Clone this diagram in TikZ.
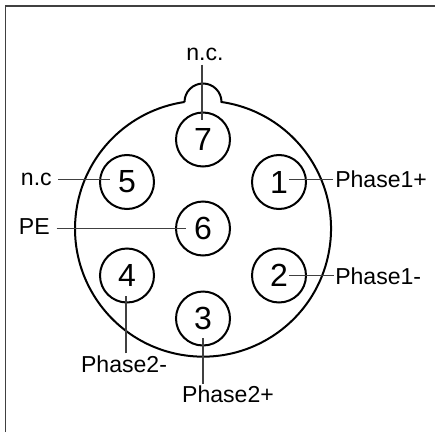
\documentclass[tikz,border=0pt]{standalone}
\usepackage{fontspec}
\setmainfont{Liberation Sans}
\tikzset{
  pin/.style={shape=circle,draw=black,line width=1.5pt,minimum size=40.5pt,inner sep=0pt,font=\fontsize{24}{24}\selectfont},
  lbl/.style={inner sep=0pt,font=\fontsize{17.3}{17.3}\selectfont},
  wire/.style={draw=black!75,line width=1pt}
}
\begin{document}
\begin{tikzpicture}[x=0.75pt,y=-0.75pt]
        \useasboundingbox (0,0) rectangle (435,432);
        % housing
        \path[draw=black!75,line width=1.1pt] (5.5,432) -- (5.5,6) -- (435,6);
        \draw[line width=1.5pt] (184.5,102) arc[start angle=180,end angle=360,radius=18.5] arc[start angle=-81.7,end angle=261.7,radius=128];
        % pins
        \node[pin] (P7) at (203,139.5) {7};
        \node[pin] (P5) at (127,182) {5};
        \node[pin] (P1) at (279,182) {1};
        \node[pin] (P6) at (203,228.5) {6};
        \node[pin] (P4) at (127,275.5) {4};
        \node[pin] (P2) at (279,275.5) {2};
        \node[pin] (P3) at (203,318.5) {3};
        % wire ends inside the pins
        \coordinate (E7) at (202,120);
        \coordinate (E5) at (110,179.5);
        \coordinate (E1) at (289,179.5);
        \coordinate (E6) at (186,228.5);
        \coordinate (E4) at (126,296);
        \coordinate (E2) at (289,275.5);
        \coordinate (E3) at (203,338);
        % labels
        \node[lbl] (L7) at (205,54) {n.c.};
        \node[lbl,anchor=east] (L5) at (52,179) {n.c};
        \node[lbl,anchor=west] (L1) at (335,179) {Phase1+};
        \node[lbl,anchor=east] (L6) at (50,227) {PE};
        \node[lbl] (L4) at (124,364) {Phase2-};
        \node[lbl,anchor=west] (L2) at (335,276) {Phase1-};
        \node[lbl] (L3) at (228,394.5) {Phase2+};
        % wires
        \path[wire] (E7 |- L7.south) ++(0,4) -- (E7);
        \path[wire] ([xshift=4.5pt]L5.east |- E5) -- (E5);
        \path[wire] ([xshift=-1.5pt]L1.west |- E1) -- (E1);
        \path[wire] ([xshift=5pt]L6.east |- E6) -- (E6);
        \path[wire] (E4 |- L4.north) ++(0,-2) -- (E4);
        \path[wire] ([xshift=-1pt]L2.west |- E2) -- (E2);
        \path[wire] (E3 |- L3.north) ++(0,-2) -- (E3);
    \end{tikzpicture}
\end{document}
